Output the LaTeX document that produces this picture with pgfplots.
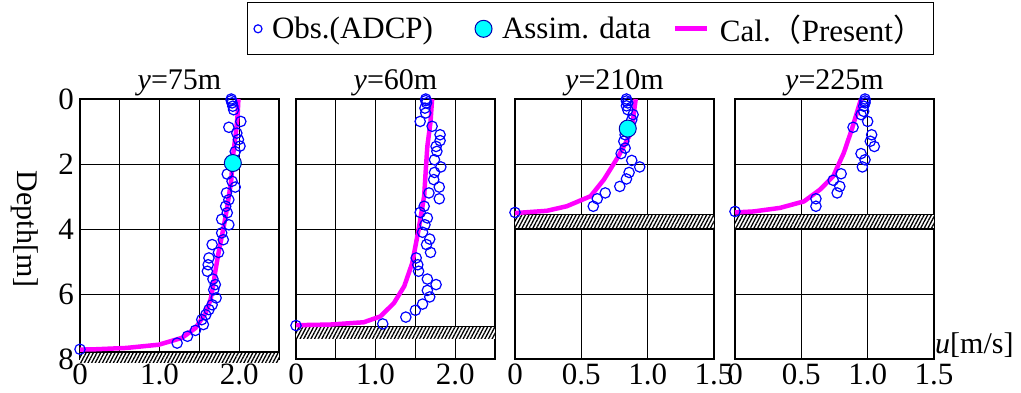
\documentclass[border=0pt]{standalone}
\usepackage{pgfplots}
\pgfplotsset{compat=1.18}
\usepackage{pgfplotstable}
\usepackage{fontspec}
\setmainfont{Liberation Serif}
\newfontfamily\cjk{Noto Sans CJK JP}
\usetikzlibrary{patterns.meta}
\definecolor{mag}{RGB}{255,0,255}
\definecolor{cyn}{RGB}{0,255,255}
\definecolor{blu}{RGB}{0,0,255}
\tikzset{hatch/.style={pattern={Lines[angle=62,distance=3.2pt,line width=1.3pt]}}}

\pgfplotstableread{
u d
1.90 0.00
1.90 0.05
1.91 0.12
1.92 0.22
1.93 0.33
2.02 0.69
1.87 0.87
1.97 1.05
1.99 1.25
2.01 1.45
1.95 1.62
1.85 2.31
1.91 2.53
1.95 2.71
1.84 2.89
1.87 3.10
1.83 3.30
1.85 3.50
1.78 3.70
1.87 3.87
1.78 4.12
1.80 4.33
1.66 4.48
1.74 4.72
1.62 4.89
1.61 5.10
1.60 5.30
1.67 5.54
1.70 5.71
1.68 5.87
1.71 6.12
1.66 6.33
1.62 6.48
1.58 6.64
1.53 6.79
1.55 6.94
1.45 7.12
1.35 7.30
1.22 7.51
0.00 7.70
}\obsA
\pgfplotstableread{
u d
1.99 0
1.98 0.5
1.96 1.0
1.92 1.8
1.90 2.5
1.87 3.0
1.83 3.6
1.80 4.0
1.74 4.74
1.70 5.3
1.67 5.8
1.64 6.17
1.58 6.58
1.45 7.05
1.28 7.35
0.99 7.56
0.58 7.66
0.20 7.70
0 7.71
}\calA
\pgfplotstableread{
u d
1.63 0.00
1.63 0.05
1.64 0.12
1.62 0.28
1.63 0.43
1.56 0.69
1.71 0.84
1.81 1.10
1.81 1.28
1.76 1.46
1.77 1.61
1.74 1.87
1.82 2.09
1.74 2.26
1.73 2.48
1.80 2.71
1.67 2.89
1.80 3.07
1.61 3.30
1.56 3.49
1.65 3.66
1.62 3.87
1.59 4.10
1.68 4.31
1.64 4.48
1.69 4.72
1.51 4.89
1.53 5.10
1.54 5.30
1.65 5.54
1.76 5.71
1.65 5.89
1.68 6.09
1.59 6.31
1.50 6.50
1.38 6.71
1.09 6.92
0.00 6.97
}\obsB
\pgfplotstableread{
u d
1.71 0
1.69 0.7
1.65 1.46
1.63 2.2
1.61 2.99
1.54 4.02
1.46 5.05
1.36 5.76
1.23 6.28
1.06 6.69
0.85 6.87
0.43 6.94
0 6.96
}\calB
\pgfplotstableread{
u d
0.84 0.00
0.84 0.06
0.85 0.12
0.84 0.21
0.85 0.33
0.89 0.48
0.88 0.64
0.83 1.10
0.82 1.30
0.83 1.51
0.80 1.68
0.88 1.89
0.94 2.09
0.86 2.26
0.84 2.46
0.79 2.69
0.68 2.89
0.62 3.07
0.59 3.30
0.00 3.49
}\obsC
\pgfplotstableread{
u d
0.91 0
0.90 0.3
0.89 0.64
0.86 1.15
0.78 1.76
0.67 2.48
0.57 2.99
0.39 3.30
0.24 3.44
0 3.51
}\calC
\pgfplotstableread{
u d
0.98 0.00
0.98 0.06
0.98 0.12
0.97 0.22
0.97 0.38
0.95 0.48
1.00 0.69
0.89 0.87
1.03 1.10
1.02 1.30
1.05 1.46
0.95 1.68
0.98 1.87
0.96 2.09
0.80 2.30
0.74 2.50
0.79 2.69
0.77 2.89
0.61 3.07
0.61 3.30
0.00 3.46
}\obsD
\pgfplotstableread{
u d
0.95 0
0.88 0.94
0.82 1.66
0.74 2.38
0.64 2.79
0.52 3.15
0.34 3.35
0.14 3.46
0 3.49
}\calD

\pgfplotsset{
 panel/.style={
  width=199pt, height=260pt, scale only axis,
  xmin=0, ymin=0, ymax=8, y dir=reverse,
  ytick={0,2,4,6,8}, yticklabels={},
  grid=major, major grid style={black, line width=0.9pt},
  axis line style={black, line width=1.8pt},
  major tick length=0pt,
  font=\fontsize{30}{32}\selectfont,
  tick label style={font=\fontsize{31}{32}\selectfont},
  xticklabel style={inner sep=0pt, yshift=-5pt},
  yticklabel style={inner sep=0pt, xshift=-6pt},
  title style={at={(0.5,1)}, anchor=south, inner sep=3pt, yshift=-6pt},
  clip=false,
 },
 obs/.style={only marks, mark=o, mark size=5.2pt, blu, mark options={line width=1.2pt}},
 cal/.style={no marks, mag, line width=4.5pt},
 assim/.style={only marks, mark=*, mark size=8.5pt, mark options={fill=cyn, draw=blu!70!black, line width=1pt}},
}

\begin{document}
\begin{tikzpicture}
\useasboundingbox (0,0) rectangle (1021pt,392pt);

% Panel 1
\begin{axis}[panel, at={(80pt,33pt)}, anchor=south west,
  xmax=2.5, xtick={0,0.5,1,1.5,2,2.5}, xticklabels={0,,1.0,,2.0,},
  yticklabels={0,2,4,6,8},
  title={{\itshape y}=75m},
  ylabel={Depth[m]},
  ylabel style={at={(axis description cs:-0.28,0.5)}, rotate=180, anchor=center},
  legend style={at={(axis description cs:2.563,1.27)}, anchor=center, draw=black, line width=1pt,
    legend columns=3, font=\fontsize{31}{33}\selectfont, inner xsep=7pt, inner ysep=10pt,
    /tikz/column 1/.style={column sep=8pt},
    /tikz/column 2/.style={column sep=40pt},
    /tikz/column 3/.style={column sep=8pt},
    /tikz/column 4/.style={column sep=20pt},
    /tikz/column 5/.style={column sep=8pt}},
  legend cell align=left,
]
\fill[white] (axis cs:0,7.78) rectangle (axis cs:2.5,8.1);
\fill[hatch] (axis cs:0,7.78) rectangle (axis cs:2.5,8.1);
\draw[line width=1.5pt] (axis cs:0,7.78) -- (axis cs:2.5,7.78);
\addplot[cal, forget plot] table[x=u,y=d] {\calA};
\addplot[obs, forget plot] table[x=u,y=d] {\obsA};
\addplot[assim, forget plot] coordinates {(1.92,1.97)};
\addlegendimage{only marks, mark=o, mark size=4pt, blu, mark options={line width=1.2pt}}
\addlegendentry{Obs.(ADCP)}
\addlegendimage{only marks, mark=*, mark size=8.5pt, mark options={fill=cyn, draw=blu!70!black, line width=1pt}}
\addlegendentry{Assim. data}
\addlegendimage{legend image code/.code={\draw[mag, line width=5pt] (0pt,0pt) -- (32pt,0pt);}}
\addlegendentry{Cal.{\cjk （}Present{\cjk ）}}
\end{axis}

% Panel 2
\begin{axis}[panel, at={(296pt,33pt)}, anchor=south west,
  xmax=2.5, xtick={0,0.5,1,1.5,2,2.5}, xticklabels={0,,1.0,,2.0,},
  title={{\itshape y}=60m},
]
\fill[white] (axis cs:0,7.0) rectangle (axis cs:2.5,7.38);
\fill[hatch] (axis cs:0,7.0) rectangle (axis cs:2.5,7.38);
\draw[line width=1.5pt] (axis cs:0,7.0) -- (axis cs:2.5,7.0);
\addplot[cal] table[x=u,y=d] {\calB};
\addplot[obs] table[x=u,y=d] {\obsB};
\end{axis}

% Panel 3
\begin{axis}[panel, at={(515pt,33pt)}, anchor=south west,
  xmax=1.5, xtick={0,0.5,1,1.5}, xticklabels={0,0.5,1.0,1.5},
  title={{\itshape y}=210m},
]
\fill[white] (axis cs:0,3.56) rectangle (axis cs:1.5,3.97);
\fill[hatch] (axis cs:0,3.56) rectangle (axis cs:1.5,3.97);
\draw[line width=1.5pt] (axis cs:0,3.56) -- (axis cs:1.5,3.56);
\draw[line width=0.9pt] (axis cs:0,3.97) -- (axis cs:1.5,3.97);
\addplot[cal] table[x=u,y=d] {\calC};
\addplot[obs] table[x=u,y=d] {\obsC};
\addplot[assim] coordinates {(0.85,0.91)};
\end{axis}

% Panel 4
\begin{axis}[panel, at={(735pt,33pt)}, anchor=south west,
  xmax=1.5, xtick={0,0.5,1,1.5}, xticklabels={0,0.5,1.0,1.5},
  title={{\itshape y}=225m},
  xlabel={{\itshape u}[m/s]},
  xlabel style={at={(axis description cs:1,0.054)}, anchor=west, inner sep=1pt},
]
\fill[white] (axis cs:0,3.56) rectangle (axis cs:1.5,3.97);
\fill[hatch] (axis cs:0,3.56) rectangle (axis cs:1.5,3.97);
\draw[line width=1.5pt] (axis cs:0,3.56) -- (axis cs:1.5,3.56);
\draw[line width=0.9pt] (axis cs:0,3.97) -- (axis cs:1.5,3.97);
\addplot[cal] table[x=u,y=d] {\calD};
\addplot[obs] table[x=u,y=d] {\obsD};
\end{axis}
\end{tikzpicture}
\end{document}
